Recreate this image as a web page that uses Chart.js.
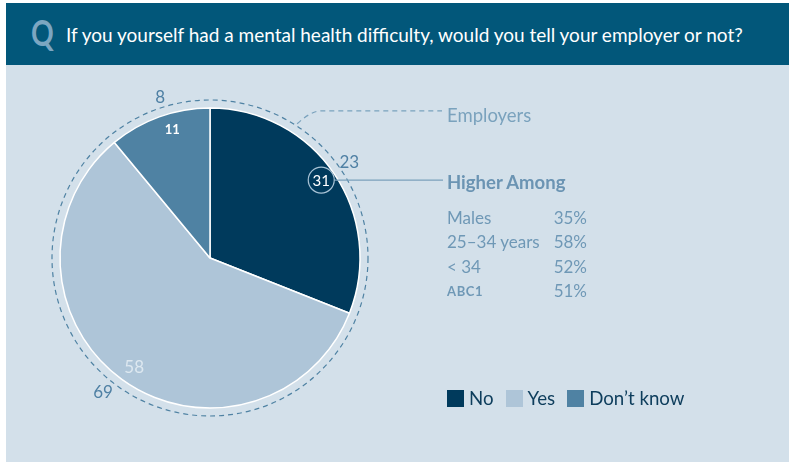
<!DOCTYPE html>
<html>
<head>
<meta charset="utf-8">
<script src="https://cdn.jsdelivr.net/npm/chart.js@4/dist/chart.umd.min.js"></script>
<style>
    body { margin: 0; background: #fff; font-family: Lato, "Open Sans", sans-serif; }
    #wrap { position: relative; width: 789px; height: 462px; overflow: hidden; }
    #panel { position: absolute; left: 6px; top: 3px; right: 0; bottom: 0; background: #d3e0ea; }
    #header { position: absolute; left: 6px; top: 3px; right: 0; height: 62px; background: #02577a; }
    #header .q { position: absolute; left: 25px; top: 7px; font-size: 36px; font-weight: 700; color: #7ca6c1;
                 transform: scaleX(0.78); transform-origin: left top; }
    #header .text { position: absolute; left: 60px; top: 20px; font-size: 19px; color: #fff; white-space: nowrap; }
    #chart { position: absolute; left: 0; top: 0; }
    .side { position: absolute; color: #7aa2bd; white-space: nowrap; }
    #employers { left: 447px; top: 104px; font-size: 18.5px; }
    #higher { left: 447px; top: 171px; font-size: 18.5px; font-weight: 700; color: #6b94b3; }
    #stats { left: 447px; top: 206px; font-size: 17px; line-height: 24.3px; color: #6f98b6; }
    #stats .row { display: flex; width: 140px; justify-content: space-between; }
    #stats .sc { font-size: 13px; font-weight: 700; letter-spacing: 0.6px; }
    #legend { position: absolute; left: 447px; top: 387px; display: flex; font-size: 18.7px; color: #0d3d5c; }
    #legend span.item { display: flex; align-items: center; margin-right: 12px; }
    #legend span.box { width: 17px; height: 17px; margin-right: 5px; }
</style>
</head>
<body>
<div id="wrap">
    <div id="panel"></div>
    <div id="header">
        <div class="q">Q</div>
        <div class="text">If you yourself had a mental health difficulty, would you tell your employer or not?</div>
    </div>
    <canvas id="chart" width="789" height="462"></canvas>
    <div class="side" id="employers">Employers</div>
    <div class="side" id="higher">Higher Among</div>
    <div class="side" id="stats"></div>
    <div id="legend"></div>
</div>

<script>
/* ---------- DATA ---------- */

const answers = ["No", "Yes", "Don’t know"];
const allValues = [31, 58, 11];
const employerValues = [23, 69, 8];
const colors = ["#003a5c", "#aec5d8", "#4f82a3"];

const groupLabels = ["Males", "25–34 years", "< 34", "ABC1"];
const groupValues = [35, 58, 52, 51];

/* ---------- SIDE TEXT + LEGEND ---------- */

document.getElementById("stats").innerHTML = groupLabels.map((g, i) => `
    <div class="row">
        <span class="${g === "ABC1" ? "sc" : ""}">${g}</span>
        <span>${groupValues[i]}%</span>
    </div>`).join("");

document.getElementById("legend").innerHTML = answers.map((a, i) => `
    <span class="item"><span class="box" style="background:${colors[i]}"></span>${a}</span>
`).join("");

/* ---------- OVERLAY PLUGIN ---------- */

// angles (deg, clockwise from top) where the employer figures sit on the ring
const employerLabelAngles = [55, 219, 343];

const overlay = {
    id: "overlay",
    afterDatasetsDraw(chart) {
        const ctx = chart.ctx;
        const arcs = chart.getDatasetMeta(0).data;
        const cx = arcs[0].x, cy = arcs[0].y, r = arcs[0].outerRadius;
        const ringR = r + 8;
        const pt = (deg, rad) => {
            const a = (deg - 90) * Math.PI / 180;
            return [cx + Math.cos(a) * rad, cy + Math.sin(a) * rad];
        };

        ctx.save();

        // dashed employers ring
        ctx.strokeStyle = "#4f82a3";
        ctx.lineWidth = 1.2;
        ctx.setLineDash([5, 4]);
        ctx.beginPath();
        ctx.arc(cx, cy, ringR, 0, Math.PI * 2);
        ctx.stroke();

        // dashed leader to "Employers"
        const [sx, sy] = pt(33, ringR + 2);
        ctx.strokeStyle = "#7aa2bd";
        ctx.beginPath();
        ctx.moveTo(sx, sy);
        ctx.quadraticCurveTo(sx + 14, sy - 13, sx + 24, sy - 13);
        ctx.lineTo(442, sy - 13);
        ctx.stroke();
        ctx.setLineDash([]);

        // employer figures
        ctx.fillStyle = "#4f80a4";
        ctx.font = "17px Lato, sans-serif";
        ctx.textAlign = "center";
        ctx.textBaseline = "middle";
        employerValues.forEach((v, i) => {
            const [x, y] = pt(employerLabelAngles[i], r + 20);
            ctx.fillText(v, x, y + 2);
        });

        // slice labels
        const mid = i => {
            const a = arcs[i];
            return (a.startAngle + a.endAngle) / 2;
        };
        const inside = (i, f) => {
            const a = mid(i);
            return [cx + Math.cos(a) * r * f, cy + Math.sin(a) * r * f];
        };

        // "31" in a ring with a line to "Higher Among"
        const noEdge = arcs[0].endAngle - (arcs[0].endAngle - arcs[0].startAngle) * 0.51;
        const lx = cx + Math.cos(noEdge) * (r - 10) - 3;
        const ly = cy + Math.sin(noEdge) * (r - 10) + 3;
        ctx.strokeStyle = "#7ba1bb";
        ctx.lineWidth = 1.2;
        ctx.beginPath();
        ctx.moveTo(lx + 13, ly);
        ctx.lineTo(443, ly);
        ctx.stroke();
        ctx.strokeStyle = "#a8c3d6";
        ctx.beginPath();
        ctx.arc(lx, ly, 13, 0, Math.PI * 2);
        ctx.stroke();
        ctx.fillStyle = "#fff";
        ctx.font = "15px Lato, sans-serif";
        ctx.fillText(allValues[0], lx, ly + 1);

        // "58"
        const [yx, yy] = inside(1, 0.86);
        ctx.fillStyle = "#dde8f0";
        ctx.font = "17px Lato, sans-serif";
        ctx.fillText(allValues[1], yx, yy + 5);

        // "11"
        const [dx, dy] = inside(2, 0.86);
        ctx.fillStyle = "#fff";
        ctx.font = "bold 13px Lato, sans-serif";
        ctx.fillText(allValues[2], dx + 6, dy - 7);

        ctx.restore();
    }
};

/* ---------- CHART ---------- */

new Chart(document.getElementById("chart"), {
    type: "pie",
    data: {
        labels: answers,
        datasets: [{
            data: allValues,
            backgroundColor: colors,
            borderColor: "#ffffff",
            borderWidth: 1.5
        }]
    },
    options: {
        responsive: false,
        animation: false,
        radius: 150,
        layout: { padding: { left: 0, right: 369, top: 54, bottom: 0 } },
        plugins: {
            legend: { display: false },
            tooltip: { enabled: false }
        }
    },
    plugins: [overlay]
});
</script>
</body>
</html>
